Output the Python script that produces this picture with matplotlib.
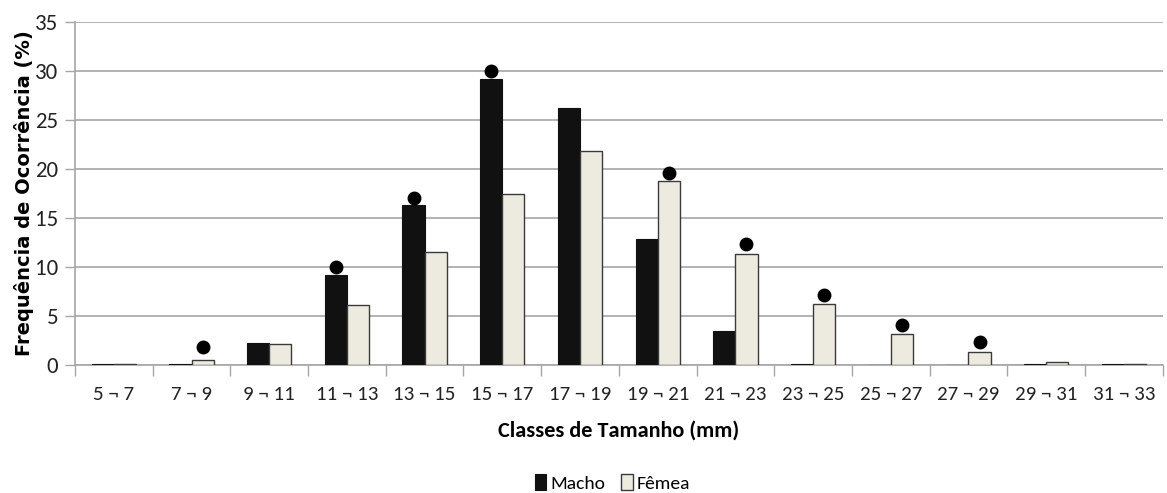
import matplotlib
matplotlib.use("Agg")
import matplotlib.pyplot as plt
import numpy as np

# Size classes and frequencies (%) per sex.
classes = ["5 ¬ 7", "7 ¬ 9", "9 ¬ 11", "11 ¬ 13", "13 ¬ 15", "15 ¬ 17", "17 ¬ 19",
           "19 ¬ 21", "21 ¬ 23", "23 ¬ 25", "25 ¬ 27", "27 ¬ 29", "29 ¬ 31", "31 ¬ 33"]
macho = [0.1, 0.1, 2.2, 9.2, 16.3, 29.2, 26.2, 12.8, 3.4, 0.1, 0.0, 0.0, 0.1, 0.1]
femea = [0.1, 0.5, 2.1, 6.1, 11.5, 17.4, 21.8, 18.7, 11.3, 6.2, 3.1, 1.3, 0.25, 0.1]

# Significance markers: (class index, sex, height of the dot)
sig_idx = [1, 3, 4, 5, 7, 8, 9, 10, 11]
sig_sex = ["f", "m", "m", "m", "f", "f", "f", "f", "f"]
sig_y = [1.8, 10.0, 17.0, 30.0, 19.6, 12.3, 7.1, 4.1, 2.3]

plt.rcParams['font.family'] = ['Carlito', 'DejaVu Sans']

fig = plt.figure(figsize=(11.67, 4.93), dpi=100, facecolor='w')
ax = fig.add_axes([0.0643, 0.26, 0.932, 0.696])

x = np.arange(len(classes))
w = 0.285
ax.bar(x - w / 2, macho, w, color='#111111', edgecolor='#111111', linewidth=0.8,
       label='Macho', zorder=3)
ax.bar(x + w / 2, femea, w, color='#EDEBE0', edgecolor='#3a3a3a', linewidth=1.0,
       label='Fêmea', zorder=3)

for i, s, yv in zip(sig_idx, sig_sex, sig_y):
    xo = -w / 2 if s == "m" else w / 2
    ax.plot(x[i] + xo, yv, 'o', color='black', markersize=9, zorder=4)

ax.set_xlim(-0.5, len(classes) - 0.5)
ax.set_ylim(0, 35)
ax.set_yticks(np.arange(0, 36, 5))
ax.yaxis.grid(True, color='#a6a6a6', linewidth=1.2, zorder=0)
ax.set_axisbelow(True)

# x ticks sit at the class boundaries, labels at the centres
ax.set_xticks(np.arange(-0.5, len(classes), 1.0))
ax.set_xticklabels([])
ax.set_xticks(x, minor=True)
ax.set_xticklabels(classes, minor=True)
ax.tick_params(axis='x', which='major', length=8, width=1, color='#a6a6a6', direction='out')
ax.tick_params(axis='x', which='minor', length=0, pad=15, labelsize=15, labelcolor='#222222')
ax.tick_params(axis='y', length=7, width=1, color='#a6a6a6', labelsize=16.5, labelcolor='#222222', pad=5)

for side in ['top', 'right']:
    ax.spines[side].set_visible(False)
for side in ['left', 'bottom']:
    ax.spines[side].set_color('#a6a6a6')
    ax.spines[side].set_linewidth(1.2)

ax.set_ylabel("Frequência de Ocorrência (%)", family='DejaVu Sans', fontweight='bold',
              fontsize=14, labelpad=1)
ax.set_xlabel("Classes de Tamanho (mm)", fontweight='bold', fontsize=16, labelpad=13)

ax.legend(loc='center', bbox_to_anchor=(0.494, -0.345), ncol=2, frameon=False,
          fontsize=14, handlelength=0.6, handleheight=0.9, handletextpad=0.2,
          columnspacing=0.8)

fig.savefig("out.png", dpi=100)
